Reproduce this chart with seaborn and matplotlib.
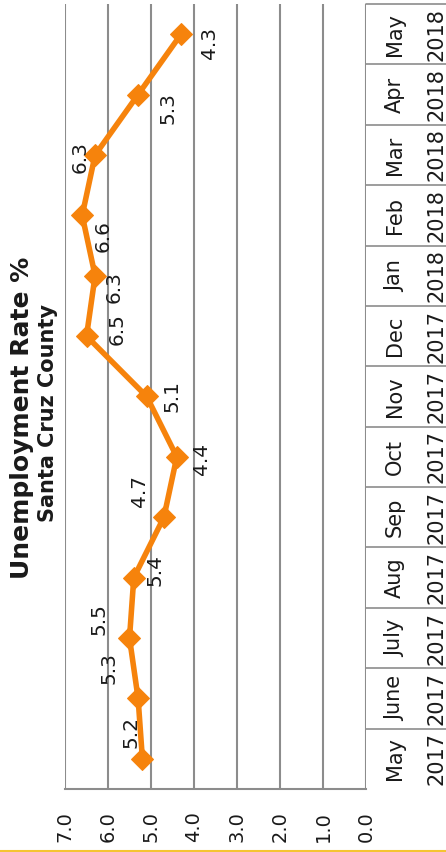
import numpy as np
import pandas as pd
import seaborn as sns
import matplotlib.pyplot as plt
from matplotlib.lines import Line2D

# chart data
months = ['May', 'June', 'July', 'Aug', 'Sep', 'Oct', 'Nov', 'Dec', 'Jan', 'Feb', 'Mar', 'Apr', 'May']
years = ['2017', '2017', '2017', '2017', '2017', '2017', '2017', '2017', '2018', '2018', '2018', '2018', '2018']
rates = [5.2, 5.3, 5.5, 5.4, 4.7, 4.4, 5.1, 6.5, 6.3, 6.6, 6.3, 5.3, 4.3]
value_ticks = [0, 1, 2, 3, 4, 5, 6, 7]

# where each value label sits relative to its marker (pixels)
label_offsets = [(-11, 27), (-29, 30), (-30, 19), (21, 8), (-24, 26), (25, -2), (25, 0),
                 (31, 7), (19, -11), (21, -21), (-15, -2), (30, -13), (28, -9)]

sns.set_style("white")
plt.rcParams['font.family'] = ['DejaVu Sans']

ORANGE = '#F6830C'
GRID = '#8c8c8c'
TXT = '#1a1a1a'

df = pd.DataFrame({'month': months, 'year': years, 'rate': rates})
df['pos'] = np.arange(len(df))

fig = plt.figure(figsize=(4.46, 8.52), dpi=100)
W, H = 446, 852
ax = fig.add_axes([65 / W, 1 - 789 / H, (366 - 65) / W, (789 - 4) / H])

# chart is drawn turned on its side: value runs right-to-left, time bottom-to-top
sns.lineplot(data=df, x='rate', y='pos', orient='y', sort=False, estimator=None,
             color=ORANGE, lw=4.0, marker='D', markersize=11,
             markeredgecolor=ORANGE, ax=ax, zorder=3)

for i, (v, off) in enumerate(zip(rates, label_offsets)):
    ax.annotate(f"{v:.1f}", (v, i), xytext=off, textcoords='offset pixels',
                rotation=90, ha='center', va='center', fontsize=14.5, color=TXT)

ax.set_xlim(7, 0)
ax.set_ylim(-0.5, len(months) - 0.5)
ax.set_xticks(value_ticks)
ax.set_xticklabels([f"{t:.1f}" for t in value_ticks], rotation=90, fontsize=14, color=TXT)
ax.set_yticks([])
ax.set_xlabel('')
ax.set_ylabel('')
ax.grid(axis='x', color=GRID, lw=1.5)
ax.grid(axis='y', visible=False)
for s in ['top', 'left', 'right']:
    ax.spines[s].set_visible(False)
ax.spines['bottom'].set_color(GRID)
ax.spines['bottom'].set_linewidth(1.5)
ax.tick_params(axis='x', length=6, width=1.5, color=GRID, direction='out', pad=10)

# category "table" on the right
ty = ax.get_yaxis_transform()
x_end = (446 - 65) / (366 - 65)
for b in np.arange(0.5, len(months), 1):
    ax.plot([1.0, x_end], [b, b], color=GRID, lw=1.2, transform=ty, clip_on=False)
for i, (m, y) in enumerate(zip(months, years)):
    ax.text((395 - 65) / 301, i, m, rotation=90, ha='center', va='center',
            fontsize=15, color=TXT, transform=ty, clip_on=False)
    ax.text((437 - 65) / 301, i, y, rotation=90, ha='center', va='center',
            fontsize=15, color=TXT, transform=ty, clip_on=False)

fig.text(22 / W, 1 - 418 / H, 'Unemployment Rate %', rotation=90, ha='center', va='center',
         fontsize=18, fontweight='bold', color=TXT)
fig.text(48 / W, 1 - 413 / H, 'Santa Cruz County', rotation=90, ha='center', va='center',
         fontsize=15, fontweight='bold', color=TXT)

fig.add_artist(Line2D([0, 1], [1.2 / H, 1.2 / H], transform=fig.transFigure,
                      color='#F5C431', lw=1.5))

fig.savefig('out.png', dpi=100)
